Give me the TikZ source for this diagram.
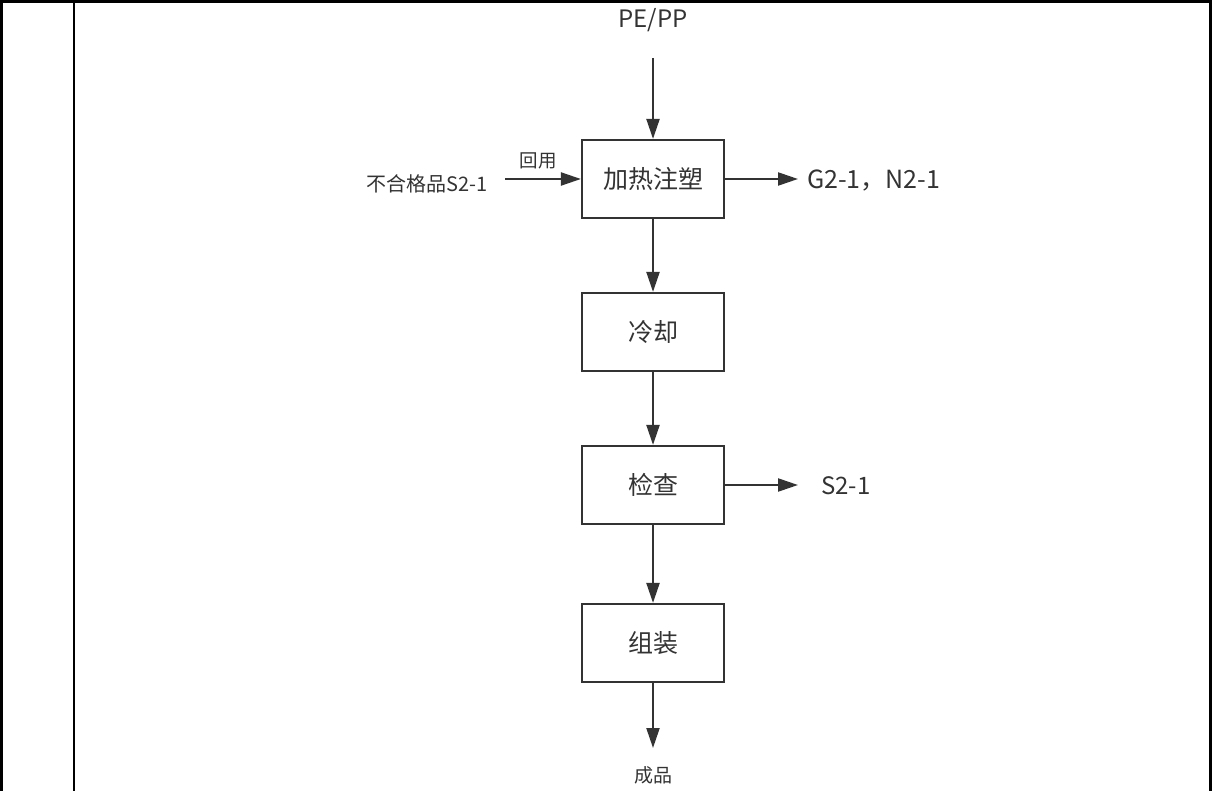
\documentclass[tikz,border=0pt]{standalone}
\usepackage{fontspec}
\setmainfont{Noto Sans CJK SC}
\usetikzlibrary{arrows.meta}
\definecolor{ink}{HTML}{333333}
\tikzset{
  procbox/.style={draw=ink, line width=2.2pt, minimum width=142pt, minimum height=78pt, inner sep=0pt, font=\fontsize{25}{28}\selectfont, text=ink},
  flow/.style={draw=ink, line width=2.2pt, -{Triangle[length=20pt,width=13pt]}},
  lbl/.style={inner sep=0pt, text=ink},
  frame/.style={draw=black, line width=3pt},
}
\begin{document}
\begin{tikzpicture}[x=1pt,y=-1pt]
\useasboundingbox (0,0) rectangle (1212,791);
% table frame
\draw[frame] (0,1.5) -- (1212,1.5);
\draw[frame] (1.5,0) -- (1.5,791);
\draw[frame] (1210.5,0) -- (1210.5,791);
\draw[draw=black, line width=2pt] (74,0) -- (74,791);
% boxes
\node[procbox] (b1) at (653,179) {加热注塑};
\node[procbox] (b2) at (653,332) {冷却};
\node[procbox] (b3) at (653,485) {检查};
\node[procbox] (b4) at (653,643) {组装};
% labels
\node[lbl, font=\fontsize{24}{28}\selectfont] (pe) at (653,20) {PE/PP};
\coordinate (peb) at (653,58);
\node[lbl, font=\fontsize{20}{24}\selectfont, anchor=east] (rej) at (488,184) {不合格品S2-1};
\coordinate (rejs) at (505,179);
\node[lbl, font=\fontsize{18.5}{22}\selectfont] (hy) at (538,161) {回用};
\node[lbl, font=\fontsize{25}{28}\selectfont, anchor=west] (g) at (807,181) {G2-1，N2-1};
\coordinate (ga) at (798,179);
\node[lbl, font=\fontsize{24}{28}\selectfont, anchor=west] (s) at (821,486) {S2-1};
\coordinate (sa) at (798,485);
\coordinate (pa) at (653,748);
\node[lbl, font=\fontsize{19}{22}\selectfont] (cp) at (653,775) {成品};
% connectors
\draw[flow] (peb) -- (b1.north);
\draw[flow] (rejs) -- (b1.west);
\draw[flow] (b1.east) -- (ga);
\draw[flow] (b1.south) -- (b2.north);
\draw[flow] (b2.south) -- (b3.north);
\draw[flow] (b3.east) -- (sa);
\draw[flow] (b3.south) -- (b4.north);
\draw[flow] (b4.south) -- (pa);
\end{tikzpicture}
\end{document}
